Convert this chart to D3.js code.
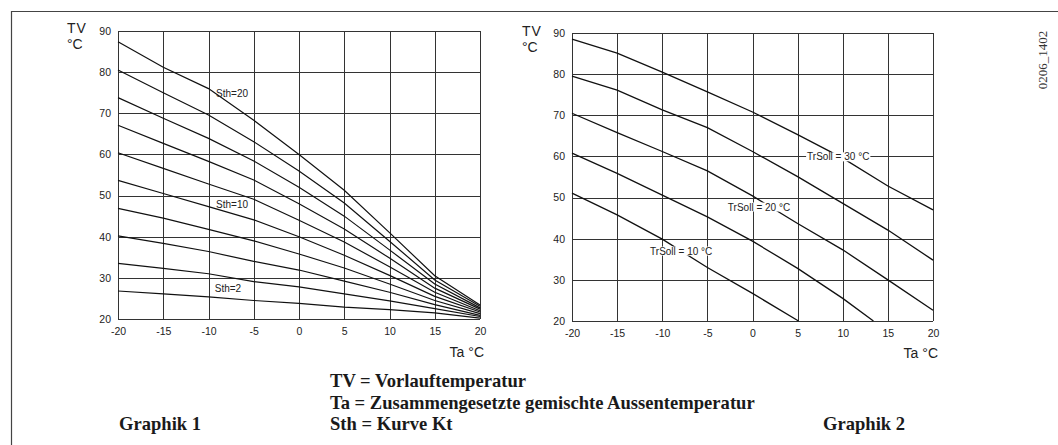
<!DOCTYPE html>
<html>
<head>
<meta charset="utf-8">
<script src="https://cdn.jsdelivr.net/npm/d3@7"></script>
<style>
  body { margin: 0; background: #fff; }
  svg { display: block; }
</style>
</head>
<body>
<svg id="chart" width="1058" height="445"></svg>
<script>
// Outside temperature steps (Ta, °C) shared by the curves
const taSteps = [-20, -15, -10, -5, 0, 5, 10, 15, 20];
const xTicks = [-20, -15, -10, -5, 0, 5, 10, 15, 20];
const yTicks = [20, 30, 40, 50, 60, 70, 80, 90];

// Graphik 1: flow temperature (TV) for heating curves Sth = 2 ... 20
const sthNames = [2, 4, 6, 8, 10, 12, 14, 16, 18, 20];
const sth2  = [26.8, 26.1, 25.4, 24.5, 23.8, 22.9, 22.3, 21.5, 20.2];
const sth4  = [33.5, 32.3, 31.0, 29.1, 27.8, 26.1, 24.4, 22.5, 20.6];
const sth6  = [40.2, 38.4, 36.4, 34.0, 31.9, 29.2, 26.5, 23.5, 20.9];
const sth8  = [46.9, 44.5, 41.8, 39.0, 35.8, 32.4, 28.5, 24.5, 21.3];
const sth10 = [53.7, 50.5, 47.3, 44.1, 40.0, 35.5, 30.6, 25.5, 21.7];
const sth12 = [60.4, 56.6, 52.8, 49.1, 44.0, 38.7, 32.7, 26.5, 22.0];
const sth14 = [67.1, 62.7, 58.3, 53.8, 48.0, 41.9, 34.8, 27.5, 22.4];
const sth16 = [73.8, 68.8, 63.9, 58.4, 52.0, 45.0, 36.8, 28.5, 22.7];
const sth18 = [80.5, 75.0, 69.6, 63.1, 56.0, 48.2, 38.9, 29.5, 23.1];
const sth20 = [87.4, 81.2, 76.0, 68.3, 60.0, 51.3, 41.0, 30.5, 23.4];
const sthCurves = [sth2, sth4, sth6, sth8, sth10, sth12, sth14, sth16, sth18, sth20];

// Graphik 2: flow temperature for room set points TrSoll
const taSoll15 = [-20, -15, -10, -5, 0, 5, 10, 13.4];
const taSoll10 = [-20, -15, -10, -5, 0, 5.1];
const soll30 = [88.5, 85.1, 80.5, 75.7, 70.8, 65.3, 59.6, 52.8, 47.0];
const soll25 = [79.5, 76.1, 71.3, 67.0, 61.2, 55.1, 48.6, 42.1, 34.8];
const soll20 = [70.5, 65.8, 61.2, 56.5, 50.4, 43.7, 37.3, 30.0, 22.6];
const soll15 = [60.8, 55.9, 50.6, 45.3, 39.4, 32.8, 25.5, 20.0];
const soll10 = [51.1, 45.8, 39.9, 33.0, 26.7, 20.0];

// Curve annotations: [text, Ta, TV]
const sthNotes = [["Sth=20", -7.4, 74.7], ["Sth=10", -7.4, 47.9], ["Sth=2", -7.85, 27.3]];
const sollNotes = [["TrSoll = 30 °C", 9.5, 59.9], ["TrSoll = 20 °C", 0.72, 47.7], ["TrSoll = 10 °C", -7.9, 37.0]];

// Legend lines and panel captions
const legendText = [
  "TV = Vorlauftemperatur",
  "Ta = Zusammengesetzte gemischte Aussentemperatur",
  "Sth = Kurve Kt"
];
const captions = ["Graphik 1", "Graphik 2"];

const svg = d3.select("#chart");
const sans = "'Liberation Sans', Arial, sans-serif";
const serif = "'Liberation Serif', 'Times New Roman', serif";

// Page frame (top and left rules)
svg.append("path")
  .attr("d", "M11.5,445 V11.5 H1058")
  .attr("fill", "none").attr("stroke", "#444").attr("stroke-width", 1.2);

function panel(x0, x1, yTop, yBottom) {
  const x = d3.scaleLinear().domain([-20, 20]).range([x0, x1]);
  const y = d3.scaleLinear().domain([20, 90]).range([yBottom, yTop]);
  const g = svg.append("g");

  // grid
  const grid = g.append("g").attr("stroke", "#333").attr("stroke-width", 1);
  grid.selectAll("line.v").data(xTicks).join("line")
    .attr("x1", d => Math.round(x(d)) + 0.5).attr("x2", d => Math.round(x(d)) + 0.5)
    .attr("y1", yTop).attr("y2", yBottom);
  grid.selectAll("line.h").data(yTicks).join("line")
    .attr("y1", d => Math.round(y(d)) + 0.5).attr("y2", d => Math.round(y(d)) + 0.5)
    .attr("x1", x0).attr("x2", x1);

  // tick labels via axes
  const ax = g.append("g").attr("transform", `translate(0,${yBottom})`)
    .call(d3.axisBottom(x).tickValues(xTicks).tickSize(0).tickPadding(9).tickFormat(d => String(d)));
  const ay = g.append("g").attr("transform", `translate(${x0},0)`)
    .call(d3.axisLeft(y).tickValues(yTicks).tickSize(0).tickPadding(7).tickFormat(d => String(d)));
  [ax, ay].forEach(a => {
    a.select(".domain").remove();
    a.selectAll("text").attr("font-family", sans).attr("font-size", 10.5).attr("fill", "#222");
  });
  return { g, x, y };
}

function axisTitles(tvX, tvY, taX, taY) {
  const t = svg.append("g").attr("font-family", sans).attr("font-size", 14).attr("fill", "#222");
  t.append("text").attr("x", tvX).attr("y", tvY).attr("letter-spacing", 1).text("TV");
  t.append("text").attr("x", tvX).attr("y", tvY + 16).text("°C");
  t.append("text").attr("x", taX).attr("y", taY).attr("text-anchor", "end").text("Ta °C");
}

function addNotes(p, notes, halo) {
  notes.forEach(([txt, tx, ty]) => {
    const grp = p.g.append("g");
    const rect = grp.append("rect").attr("fill", "#fff");
    const label = grp.append("text")
      .attr("x", p.x(tx)).attr("y", p.y(ty)).attr("dy", "0.35em")
      .attr("text-anchor", "middle")
      .attr("font-family", sans).attr("font-size", 10).attr("fill", "#222")
      .text(txt);
    if (halo) {
      const b = label.node().getBBox();
      rect.attr("x", b.x - 1).attr("y", b.y + 1).attr("width", b.width + 2).attr("height", b.height - 2);
    } else {
      rect.remove();
    }
  });
}

// ---------- Graphik 1 ----------
const p1 = panel(118, 480, 31, 319);
const line1 = d3.line().x((d, i) => p1.x(taSteps[i])).y(d => p1.y(d));
p1.g.append("g").selectAll("path").data(sthCurves).join("path")
  .attr("d", line1).attr("fill", "none").attr("stroke", "#111").attr("stroke-width", 1.2);
addNotes(p1, sthNotes, false);
axisTitles(67, 33, 484, 357);

// ---------- Graphik 2 ----------
const p2 = panel(572, 933, 33, 321);
const sollSeries = [
  { ta: taSteps, tv: soll30 },
  { ta: taSteps, tv: soll25 },
  { ta: taSteps, tv: soll20 },
  { ta: taSoll15, tv: soll15 },
  { ta: taSoll10, tv: soll10 }
];
p2.g.append("g").selectAll("path").data(sollSeries).join("path")
  .attr("d", s => d3.line().x((d, i) => p2.x(s.ta[i])).y(d => p2.y(d))(s.tv))
  .attr("fill", "none").attr("stroke", "#111").attr("stroke-width", 1.3);
addNotes(p2, sollNotes, true);
axisTitles(522, 36, 938, 358);

// Drawing reference number
svg.append("text")
  .attr("transform", "translate(1047,60) rotate(-90)")
  .attr("text-anchor", "middle")
  .attr("font-family", serif).attr("font-size", 13).attr("fill", "#333")
  .text("0206_1402");

// Legend below the charts: bold serif, one common horizontal scale so the
// longest line runs from x=330 to x=755
const legend = svg.append("g").attr("font-family", serif).attr("font-weight", "bold")
  .attr("font-size", 18).attr("fill", "#1a1a1a");
const probe = legend.append("text").text(legendText[1]);
const sx = 425 / probe.node().getComputedTextLength();
probe.remove();
const placeText = (txt, lx, ly) =>
  legend.append("text").attr("transform", `translate(${lx},${ly}) scale(${sx},1)`).text(txt);
legendText.forEach((txt, i) => placeText(txt, 330, 387 + i * 21.5));
placeText(captions[0], 119, 430);
placeText(captions[1], 823, 430);
</script>
</body>
</html>
